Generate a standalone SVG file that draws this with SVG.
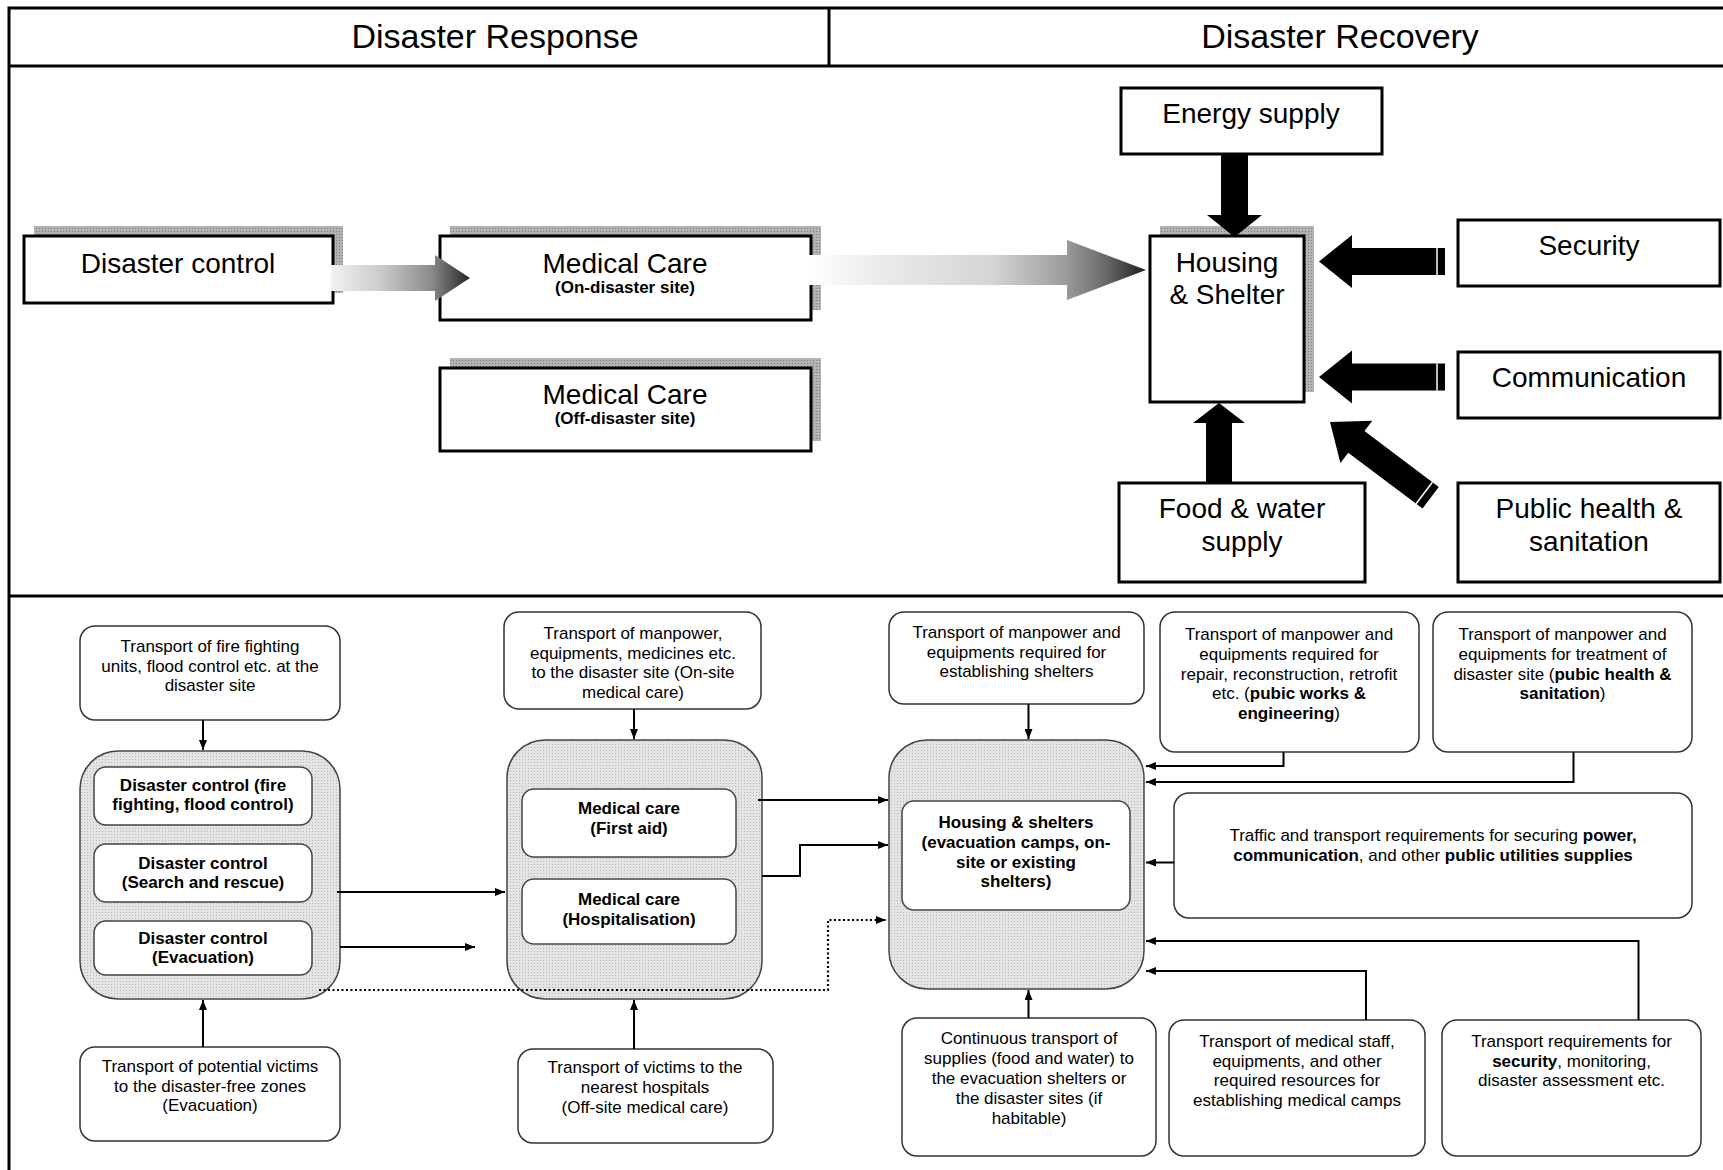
<svg xmlns="http://www.w3.org/2000/svg" width="1723" height="1170" viewBox="0 0 1723 1170">
  <defs>
    <style>
      text { font-family: "Liberation Sans", Arial, sans-serif; fill: #000; text-anchor: middle; }
      .hdr { font-size: 34px; }
      .big { font-size: 28px; }
      .sub { font-size: 17px; font-weight: bold; }
      .t { font-size: 17px; }
      .tb { font-size: 17px; font-weight: bold; }
      .b { font-weight: bold; }
      .frame { stroke: #000; stroke-width: 3; fill: none; }
      .box { fill: #fff; stroke: #000; stroke-width: 3; }
      .shadow { fill: url(#shade); }
      .blk { fill: #000; }
      .tbox { fill: #fff; stroke: #333; stroke-width: 1.5; }
      .grp { fill: url(#dots); stroke: #444; stroke-width: 1.5; }
      .inner { fill: #fff; stroke: #444; stroke-width: 1.5; }
      .conn { fill: none; stroke: #000; stroke-width: 2; marker-end: url(#head); }
      .dot { fill: none; stroke: #000; stroke-width: 2.2; stroke-dasharray: 2 2.5; marker-end: url(#head); }
    </style>
    <pattern id="dots" width="3" height="3" patternUnits="userSpaceOnUse">
      <rect width="3" height="3" fill="#e4e4e4"/>
      <rect width="1" height="1" fill="#b8b8b8"/>
    </pattern>
    <pattern id="shade" width="3" height="3" patternUnits="userSpaceOnUse">
      <rect width="3" height="3" fill="#b2b2b2"/>
      <rect width="1" height="1" fill="#7e7e7e"/>
    </pattern>
    <linearGradient id="fade1" gradientUnits="userSpaceOnUse" x1="331" y1="0" x2="470" y2="0">
      <stop offset="0" stop-color="#f2f2f2"/>
      <stop offset="0.35" stop-color="#cccccc"/>
      <stop offset="0.72" stop-color="#8c8c8c"/>
      <stop offset="1" stop-color="#262626"/>
    </linearGradient>
    <linearGradient id="fade2" gradientUnits="userSpaceOnUse" x1="808" y1="0" x2="1146" y2="0">
      <stop offset="0" stop-color="#ffffff"/>
      <stop offset="0.2" stop-color="#ececec"/>
      <stop offset="0.55" stop-color="#d4d4d4"/>
      <stop offset="0.76" stop-color="#9c9c9c"/>
      <stop offset="0.88" stop-color="#6a6a6a"/>
      <stop offset="1" stop-color="#1e1e1e"/>
    </linearGradient>
    <marker id="head" viewBox="0 0 10 8" refX="10" refY="4" markerWidth="10" markerHeight="8" markerUnits="userSpaceOnUse" orient="auto">
      <path d="M0,0 L10,4 L0,8 z" fill="#000"/>
    </marker>
  </defs>

  <rect width="1723" height="1170" fill="#fff"/>

  <!-- frame and header -->
  <g id="frame">
    <path class="frame" d="M9,1170 V8 H1723 M9,66 H1723 M829,8 V66 M9,596 H1723"/>
    <text class="hdr" x="495" y="48">Disaster Response</text>
    <text class="hdr" x="1340" y="48">Disaster Recovery</text>
  </g>

  <!-- upper panel: phases -->
  <g id="disaster-control">
    <rect class="shadow" x="34" y="226" width="309" height="67"/>
    <rect class="box" x="24" y="236" width="309" height="67"/>
    <text class="big" x="178" y="273">Disaster control</text>
  </g>
  <g id="medical-on-site">
    <rect class="shadow" x="450" y="226" width="371" height="84"/>
    <rect class="box" x="440" y="236" width="371" height="84"/>
    <text class="big" x="625" y="273">Medical Care</text>
    <text class="sub" x="625" y="293">(On-disaster site)</text>
  </g>
  <g id="medical-off-site">
    <rect class="shadow" x="450" y="358" width="371" height="83"/>
    <rect class="box" x="440" y="368" width="371" height="83"/>
    <text class="big" x="625" y="404">Medical Care</text>
    <text class="sub" x="625" y="424">(Off-disaster site)</text>
  </g>
  <g id="energy-supply">
    <rect class="box" x="1121" y="88" width="261" height="66"/>
    <text class="big" x="1251" y="123">Energy supply</text>
  </g>
  <g id="housing-shelter">
    <rect class="shadow" x="1160" y="226" width="154" height="166"/>
    <rect class="box" x="1150" y="236" width="154" height="166"/>
    <text class="big" x="1227" y="272">Housing</text>
    <text class="big" x="1227" y="304">&amp; Shelter</text>
  </g>
  <g id="security">
    <rect class="box" x="1458" y="220" width="262" height="66"/>
    <text class="big" x="1589" y="255">Security</text>
  </g>
  <g id="communication">
    <rect class="box" x="1458" y="352" width="262" height="66"/>
    <text class="big" x="1589" y="387">Communication</text>
  </g>
  <g id="food-water">
    <rect class="box" x="1119" y="483" width="246" height="99"/>
    <text class="big" x="1242" y="518">Food &amp; water</text>
    <text class="big" x="1242" y="551">supply</text>
  </g>
  <g id="public-health">
    <rect class="box" x="1458" y="483" width="262" height="99"/>
    <text class="big" x="1589" y="518">Public health &amp;</text>
    <text class="big" x="1589" y="551">sanitation</text>
  </g>

  <!-- upper panel: block arrows -->
  <g id="block-arrows">
    <polygon fill="url(#fade1)" points="331,265 435,265 435,255 470,278 435,301 435,291 331,291"/>
    <polygon fill="url(#fade2)" points="808,255 1067,255 1067,240 1146,270 1067,300 1067,285 808,285"/>
    <polygon class="blk" points="1221,154 1248,154 1248,215 1262,215 1234.5,237 1207,215 1221,215"/>
    <polygon class="blk" points="1206,483 1232,483 1232,423 1245,423 1219,403 1193,423 1206,423"/>
    <g transform="translate(1319,261.5)">
      <polygon class="blk" points="0,0 33,-26.5 33,-13.5 126,-13.5 126,13.5 33,13.5 33,26.5"/>
      <line x1="118" y1="-13.5" x2="118" y2="13.5" stroke="#fff" stroke-width="1.5"/>
    </g>
    <g transform="translate(1319,377)">
      <polygon class="blk" points="0,0 33,-26.5 33,-13.5 126,-13.5 126,13.5 33,13.5 33,26.5"/>
      <line x1="118" y1="-13.5" x2="118" y2="13.5" stroke="#fff" stroke-width="1.5"/>
    </g>
    <g transform="translate(1330,422) rotate(37)">
      <polygon class="blk" points="0,0 33,-26.5 33,-13.5 126,-13.5 126,13.5 33,13.5 33,26.5"/>
      <line x1="118" y1="-13.5" x2="118" y2="13.5" stroke="#fff" stroke-width="1.5"/>
    </g>
  </g>

  <!-- lower panel: transport requirements -->
  <g id="fire-transport">
    <rect class="tbox" x="80" y="626" width="260" height="94" rx="15"/>
    <text class="t" x="210" y="652">Transport of fire fighting</text>
    <text class="t" x="210" y="671.5">units, flood control etc. at the</text>
    <text class="t" x="210" y="691">disaster site</text>
  </g>
  <g id="disaster-control-group">
    <rect class="grp" x="80" y="751" width="260" height="248" rx="38"/>
    <rect class="inner" x="94" y="767" width="218" height="58" rx="12"/>
    <text class="tb" x="203" y="791">Disaster control (fire</text>
    <text class="tb" x="203" y="810">fighting, flood control)</text>
    <rect class="inner" x="94" y="844" width="218" height="58" rx="12"/>
    <text class="tb" x="203" y="869">Disaster control</text>
    <text class="tb" x="203" y="888">(Search and rescue)</text>
    <rect class="inner" x="94" y="921" width="218" height="54" rx="12"/>
    <text class="tb" x="203" y="944">Disaster control</text>
    <text class="tb" x="203" y="963">(Evacuation)</text>
  </g>
  <g id="evacuation-transport">
    <rect class="tbox" x="80" y="1047" width="260" height="94" rx="15"/>
    <text class="t" x="210" y="1072">Transport of potential victims</text>
    <text class="t" x="210" y="1091.5">to the disaster-free zones</text>
    <text class="t" x="210" y="1111">(Evacuation)</text>
  </g>

  <g id="onsite-medical-transport">
    <rect class="tbox" x="504" y="612" width="257" height="97" rx="15"/>
    <text class="t" x="633" y="639">Transport of manpower,</text>
    <text class="t" x="633" y="658.5">equipments, medicines etc.</text>
    <text class="t" x="633" y="678">to the disaster site (On-site</text>
    <text class="t" x="633" y="697.5">medical care)</text>
  </g>
  <g id="medical-care-group">
    <rect class="grp" x="507" y="740" width="255" height="259" rx="38"/>
    <rect class="inner" x="522" y="789" width="214" height="68" rx="12"/>
    <text class="tb" x="629" y="814">Medical care</text>
    <text class="tb" x="629" y="834">(First aid)</text>
    <rect class="inner" x="522" y="879" width="214" height="65" rx="12"/>
    <text class="tb" x="629" y="905">Medical care</text>
    <text class="tb" x="629" y="925">(Hospitalisation)</text>
  </g>
  <g id="offsite-medical-transport">
    <rect class="tbox" x="518" y="1049" width="255" height="94" rx="15"/>
    <text class="t" x="645" y="1073">Transport of victims to the</text>
    <text class="t" x="645" y="1093">nearest hospitals</text>
    <text class="t" x="645" y="1112.5">(Off-site medical care)</text>
  </g>

  <g id="shelter-transport">
    <rect class="tbox" x="889" y="612" width="255" height="92" rx="15"/>
    <text class="t" x="1016.5" y="638">Transport of manpower and</text>
    <text class="t" x="1016.5" y="657.5">equipments required for</text>
    <text class="t" x="1016.5" y="677">establishing shelters</text>
  </g>
  <g id="housing-group">
    <rect class="grp" x="889" y="740" width="255" height="249" rx="38"/>
    <rect class="inner" x="902" y="801" width="228" height="109" rx="12"/>
    <text class="tb" x="1016" y="828">Housing &amp; shelters</text>
    <text class="tb" x="1016" y="848">(evacuation camps, on-</text>
    <text class="tb" x="1016" y="867.5">site or existing</text>
    <text class="tb" x="1016" y="887">shelters)</text>
  </g>
  <g id="supplies-transport">
    <rect class="tbox" x="902" y="1018" width="254" height="138" rx="15"/>
    <text class="t" x="1029" y="1044">Continuous transport of</text>
    <text class="t" x="1029" y="1064">supplies (food and water) to</text>
    <text class="t" x="1029" y="1084">the evacuation shelters or</text>
    <text class="t" x="1029" y="1104">the disaster sites (if</text>
    <text class="t" x="1029" y="1124">habitable)</text>
  </g>

  <g id="public-works-transport">
    <rect class="tbox" x="1160" y="612" width="259" height="140" rx="15"/>
    <text class="t" x="1289" y="640">Transport of manpower and</text>
    <text class="t" x="1289" y="660">equipments required for</text>
    <text class="t" x="1289" y="679.5">repair, reconstruction, retrofit</text>
    <text class="t" x="1289" y="699">etc. (<tspan class="b">pubic works &amp;</tspan></text>
    <text class="t" x="1289" y="719"><tspan class="b">engineering</tspan>)</text>
  </g>
  <g id="sanitation-transport">
    <rect class="tbox" x="1433" y="612" width="259" height="140" rx="15"/>
    <text class="t" x="1562.5" y="640">Transport of manpower and</text>
    <text class="t" x="1562.5" y="660">equipments for treatment of</text>
    <text class="t" x="1562.5" y="679.5">disaster site (<tspan class="b">pubic health &amp;</tspan></text>
    <text class="t" x="1562.5" y="699"><tspan class="b">sanitation</tspan>)</text>
  </g>
  <g id="utilities-transport">
    <rect class="tbox" x="1174" y="793" width="518" height="125" rx="15"/>
    <text class="t" x="1433" y="841">Traffic and transport requirements for securing <tspan class="b">power,</tspan></text>
    <text class="t" x="1433" y="861"><tspan class="b">communication</tspan>, and other <tspan class="b">public utilities supplies</tspan></text>
  </g>
  <g id="medical-camp-transport">
    <rect class="tbox" x="1169" y="1020" width="256" height="136" rx="15"/>
    <text class="t" x="1297" y="1047">Transport of medical staff,</text>
    <text class="t" x="1297" y="1066.5">equipments, and other</text>
    <text class="t" x="1297" y="1086">required resources for</text>
    <text class="t" x="1297" y="1105.5">establishing medical camps</text>
  </g>
  <g id="security-transport">
    <rect class="tbox" x="1442" y="1020" width="259" height="136" rx="15"/>
    <text class="t" x="1571.5" y="1047">Transport requirements for</text>
    <text class="t" x="1571.5" y="1066.5"><tspan class="b">security</tspan>, monitoring,</text>
    <text class="t" x="1571.5" y="1086">disaster assessment etc.</text>
  </g>

  <!-- lower panel: connectors -->
  <g id="connectors">
    <path class="conn" d="M203,720 V750"/>
    <path class="conn" d="M203,1047 V1000"/>
    <path class="conn" d="M634,709 V739"/>
    <path class="conn" d="M634,1049 V1000"/>
    <path class="conn" d="M1028.5,704 V739"/>
    <path class="conn" d="M1028.5,1018 V990"/>
    <path class="conn" d="M337,892 H505"/>
    <path class="conn" d="M340,947 H475"/>
    <path class="conn" d="M758,800 H888"/>
    <path class="conn" d="M762,876 H800 V845 H888"/>
    <path class="dot" d="M319,990 H828 V920 H886"/>
    <path class="conn" d="M1283.5,752 V766 H1146"/>
    <path class="conn" d="M1573.5,752 V782 H1146"/>
    <path class="conn" d="M1174,862.5 H1146"/>
    <path class="conn" d="M1638.5,1020 V941 H1146"/>
    <path class="conn" d="M1366,1020 V971 H1146"/>
  </g>
</svg>
